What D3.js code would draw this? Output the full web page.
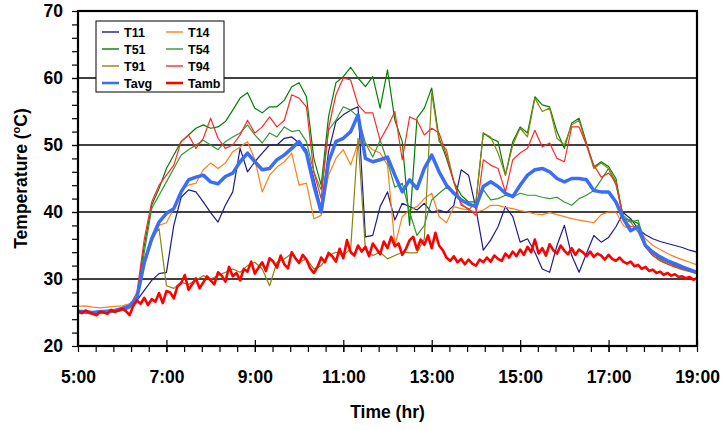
<!DOCTYPE html>
<html>
<head>
<meta charset="utf-8">
<script src="https://cdn.jsdelivr.net/npm/d3@7"></script>
<style>
  html, body { margin: 0; padding: 0; background: #fff; overflow: hidden; }
  svg { display: block; }
  svg text { font-family: "Liberation Sans", Arial, sans-serif; font-weight: bold; fill: #000; }
</style>
</head>
<body>
<svg id="chart" width="725" height="430"></svg>
<script>
// time grids (hours): sensors every 10 min, ambient every 5 min
const t10 = d3.range(85).map(i => 5 + i / 6)
const t5 = d3.range(169).map(j => 5 + j / 12)

const xTicks = [5, 7, 9, 11, 13, 15, 17, 19]
const yTicks = [20, 30, 40, 50, 60, 70]

const T11 = [25.3,25.2,25.1,25.2,25.3,25.4,25.6,25.8,26.8,28.3,
  29.8,30.8,31.0,38.0,42.2,43.3,43.0,41.5,39.9,38.5,
  41.0,43.0,49.5,46.0,47.5,48.8,50.0,50.0,51.0,51.2,
  50.3,49.3,45.0,40.5,49.0,53.5,54.5,55.2,55.7,36.3,
  36.5,40.8,43.0,38.8,41.3,40.8,40.3,41.3,39.9,40.3,
  39.9,41.0,46.3,45.5,40.5,34.3,35.8,37.8,40.8,39.3,
  35.5,36.0,34.0,31.5,31.0,35.0,38.0,33.5,31.0,33.8,
  36.5,35.5,36.2,37.8,39.9,39.0,37.5,36.6,36.0,35.6,
  35.3,35.0,34.7,34.3,34.0]

const T14 = [25.9,26.0,25.8,25.7,25.8,25.9,26.0,26.3,27.0,32.0,
  35.5,38.0,38.4,40.5,43.3,44.0,44.3,46.3,47.3,46.5,
  47.3,49.0,49.7,50.5,47.8,43.0,45.5,46.7,47.5,48.8,
  44.0,44.3,39.0,39.5,45.5,48.0,49.3,47.0,50.3,50.3,
  49.3,48.8,47.0,35.0,39.3,40.3,40.8,42.0,42.8,39.3,
  38.4,40.8,40.5,40.3,40.0,40.3,41.0,41.0,40.7,40.5,
  40.2,40.0,39.7,39.6,39.9,39.6,39.3,39.0,38.8,38.6,
  38.4,39.6,40.0,40.0,38.0,37.3,37.8,36.0,35.0,34.4,
  33.8,33.3,32.9,32.5,32.1]

const T51 = [25.0,24.9,24.8,24.9,25.0,25.1,25.3,25.7,27.5,35.0,
  41.0,43.5,46.5,48.5,50.5,51.5,52.5,53.0,52.5,52.7,
  53.5,55.2,57.0,57.8,55.5,54.8,55.7,55.7,56.7,58.7,
  59.3,57.2,48.0,44.0,54.2,59.3,60.2,61.6,60.0,58.7,
  60.2,55.5,61.2,53.7,50.5,38.0,54.0,55.5,58.5,51.0,
  48.0,44.5,42.5,41.5,41.5,51.8,51.0,50.5,45.5,50.5,
  52.7,51.8,57.2,56.0,55.7,52.0,49.5,53.3,54.0,50.3,
  46.7,47.5,46.8,45.0,39.0,38.8,38.3,35.0,33.8,33.0,
  32.5,32.0,31.6,31.2,30.8]

const T54 = [25.1,25.0,24.9,25.0,25.1,25.2,25.4,25.8,27.3,34.0,
  40.5,42.5,44.5,46.5,48.5,49.3,50.0,50.7,50.0,49.3,
  50.5,51.2,51.8,53.0,51.5,50.3,51.8,51.2,52.7,52.0,
  52.2,50.5,46.0,43.3,52.2,53.7,55.7,55.2,54.2,50.3,
  48.2,50.7,47.5,43.7,44.3,40.0,36.5,38.0,41.8,42.8,
  43.7,43.0,42.0,41.0,40.8,43.3,41.8,42.0,42.5,42.2,
  42.8,42.5,42.5,42.2,42.0,42.2,41.5,41.0,42.0,42.5,
  43.2,44.8,46.5,44.0,39.5,38.5,38.8,35.2,34.2,33.4,
  32.8,32.2,31.7,31.3,30.9]

const T91 = [25.0,24.9,24.8,24.9,25.0,25.1,25.3,25.6,27.0,33.0,
  36.0,37.5,29.0,28.6,29.5,29.2,29.8,30.5,30.0,30.5,
  31.0,31.5,31.0,32.0,32.5,31.5,29.0,32.5,33.0,33.8,
  32.5,33.0,31.5,32.0,33.5,34.0,33.5,34.5,51.0,34.5,
  33.5,34.0,33.0,33.5,34.0,33.9,33.9,36.0,57.8,50.5,
  49.3,44.5,41.3,40.3,41.5,51.8,51.2,48.8,45.5,50.0,
  52.5,51.2,57.0,55.0,55.5,51.0,50.0,53.0,53.7,50.0,
  46.5,47.3,46.5,44.5,38.8,38.5,37.0,34.8,33.5,32.8,
  32.3,31.8,31.4,31.1,30.8]

const T94 = [25.2,25.1,25.0,25.1,25.2,25.3,25.5,25.9,28.0,36.0,
  41.5,44.0,45.5,47.0,50.5,51.5,49.5,51.0,54.0,51.0,
  49.5,50.0,51.5,53.7,51.8,52.7,54.2,52.7,53.7,57.5,
  57.0,55.7,46.0,42.0,52.5,57.5,60.0,59.7,56.0,54.8,
  54.8,50.7,52.7,55.0,47.8,54.2,53.7,51.5,52.5,51.8,
  48.5,44.5,41.0,40.5,39.5,47.8,47.0,46.5,43.0,47.8,
  48.8,49.5,52.2,49.7,50.3,48.0,47.5,52.7,52.7,50.0,
  47.0,45.2,45.8,44.5,39.0,37.8,37.8,34.8,33.5,32.7,
  32.2,31.8,31.5,31.2,30.9]

const Tavg = [25.2,25.1,25.0,25.1,25.2,25.3,25.6,26.0,27.2,32.5,
  36.0,38.5,39.8,40.5,43.0,44.8,45.2,45.5,44.5,44.2,
  45.3,45.8,47.5,48.8,47.5,46.3,46.5,47.8,48.5,49.5,
  50.5,48.8,44.0,40.0,47.5,50.5,51.0,52.0,54.5,48.0,
  47.5,47.8,48.2,45.5,43.0,44.8,43.5,46.5,48.5,46.0,
  44.0,42.8,41.8,41.2,40.8,43.8,44.5,43.8,42.8,42.3,
  44.0,45.5,46.3,46.5,46.0,45.0,44.5,45.0,45.0,44.8,
  43.2,43.0,43.0,41.5,39.0,37.2,37.8,35.0,34.0,33.3,
  32.7,32.3,31.8,31.4,31.0]

const Tamb = [25.2,24.9,25.3,25.0,24.8,24.6,25.1,25.0,24.8,25.4,25.1,25.3,25.6,25.2,24.6,
  26.0,26.8,26.3,27.2,26.1,27.0,26.6,27.9,26.4,28.2,28.0,27.1,28.9,29.4,30.6,
  28.4,29.2,30.1,28.6,29.5,30.4,29.8,29.2,31.0,30.5,29.6,31.8,30.4,30.9,29.8,
  31.5,31.1,32.6,30.8,31.7,32.5,31.2,33.1,32.6,31.7,33.5,32.2,31.6,34.0,33.1,
  32.4,33.6,32.9,31.6,30.9,31.8,33.2,32.5,33.9,33.4,32.6,34.5,33.1,35.8,34.0,
  33.5,35.0,34.1,34.8,33.4,35.3,34.5,33.7,35.6,34.6,36.3,34.9,35.3,33.6,34.5,
  35.8,36.3,34.4,35.9,35.1,36.5,34.6,36.9,35.0,34.3,33.2,32.7,33.4,32.5,33.0,
  32.2,32.9,32.3,32.0,32.9,32.5,33.2,32.6,33.5,33.0,32.7,33.8,33.2,34.1,33.4,
  34.4,33.6,34.8,34.0,35.9,33.8,34.6,33.5,35.2,34.3,33.8,35.0,34.2,33.7,34.6,
  33.6,34.4,34.0,33.4,34.1,33.3,33.8,33.5,32.9,33.6,33.0,32.7,33.2,32.6,32.3,
  32.6,31.9,32.1,31.5,31.8,31.2,31.4,30.9,31.1,30.6,30.9,30.5,30.7,30.3,30.4,
  30.1,30.3,29.9,30.1]

// draw order = legend order
const series = [
  { name: 'T11', time: t10, values: T11, color: '#1c1c8e', width: 1.2 },
  { name: 'T14', time: t10, values: T14, color: '#ff7f1a', width: 1.2 },
  { name: 'T51', time: t10, values: T51, color: '#008000', width: 1.2 },
  { name: 'T54', time: t10, values: T54, color: '#2f9a2f', width: 1.2 },
  { name: 'T91', time: t10, values: T91, color: '#868610', width: 1.2 },
  { name: 'T94', time: t10, values: T94, color: '#ff2a2a', width: 1.2 },
  { name: 'Tavg', time: t10, values: Tavg, color: '#3a6ef5', width: 3.5 },
  { name: 'Tamb', time: t5, values: Tamb, color: '#ff0000', width: 2.6 }
]

const width = 725
const height = 430
const margin = { top: 11, right: 28, bottom: 84, left: 78 }
const innerWidth = width - margin.left - margin.right
const innerHeight = height - margin.top - margin.bottom

const svg = d3.select('#chart')

const x = d3.scaleLinear().domain([5, 19]).range([0, innerWidth])
const y = d3.scaleLinear().domain([20, 70]).range([innerHeight, 0])

const g = svg.append('g')
  .attr('transform', `translate(${margin.left},${margin.top})`)

// grid lines
g.append('g')
  .selectAll('line')
  .data([30, 40, 50, 60])
  .join('line')
  .attr('x1', 0)
  .attr('x2', innerWidth)
  .attr('y1', d => y(d))
  .attr('y2', d => y(d))
  .attr('stroke', '#000')
  .attr('stroke-width', 1.3)

// series
const line = d3.line()
  .x(d => x(d[0]))
  .y(d => y(d[1]))

series.forEach(s => {
  g.append('path')
    .datum(s.time.map((t, i) => [t, s.values[i]]))
    .attr('fill', 'none')
    .attr('stroke', s.color)
    .attr('stroke-width', s.width)
    .attr('stroke-linejoin', 'round')
    .attr('d', line)
})

// y axis: labelled majors, minor ticks every 2
const yMinor = g.append('g')
  .call(d3.axisLeft(y).tickValues(d3.range(22, 70, 2)).tickSize(6).tickFormat(''))
yMinor.select('.domain').remove()
yMinor.selectAll('text').remove()
yMinor.selectAll('line').attr('stroke', '#000').attr('stroke-width', 1.2)

const yAxis = g.append('g')
  .call(d3.axisLeft(y).tickValues(yTicks).tickSize(6).tickPadding(9))
  .attr('font-family', null)
  .attr('font-size', 17.5)
yAxis.select('.domain').remove()
yAxis.selectAll('line').attr('stroke', '#000').attr('stroke-width', 1.2)

// x axis: minor ticks every 24 min, majors cross the axis
const xMinor = g.append('g')
  .attr('transform', `translate(0,${innerHeight})`)
  .call(d3.axisBottom(x).tickValues(d3.range(5.4, 19, 0.4)).tickSize(6).tickFormat(''))
xMinor.select('.domain').remove()
xMinor.selectAll('text').remove()
xMinor.selectAll('line').attr('stroke', '#000').attr('stroke-width', 1.2)

const xAxis = g.append('g')
  .attr('transform', `translate(0,${innerHeight})`)
  .call(d3.axisBottom(x).tickValues(xTicks).tickSize(6).tickPadding(19).tickFormat(d => `${d}:00`))
  .attr('font-family', null)
  .attr('font-size', 17.5)
xAxis.select('.domain').remove()
xAxis.selectAll('line').attr('stroke', '#000').attr('stroke-width', 1.2).attr('y1', -6)

// frame
g.append('rect')
  .attr('width', innerWidth)
  .attr('height', innerHeight)
  .attr('fill', 'none')
  .attr('stroke', '#000')
  .attr('stroke-width', 2.2)

// axis titles
svg.append('text')
  .attr('x', margin.left + innerWidth / 2)
  .attr('y', 418)
  .attr('text-anchor', 'middle')
  .attr('font-size', 17.5)
  .text('Time (hr)')

const yTitle = svg.append('text')
  .attr('transform', `translate(27,${margin.top + innerHeight / 2}) rotate(-90)`)
  .attr('text-anchor', 'middle')
  .attr('font-size', 17.5)
yTitle.append('tspan').text('Temperature (')
yTitle.append('tspan').attr('dy', -7).attr('font-size', 11).text('o')
yTitle.append('tspan').attr('dy', 7).text('C)')

// legend
const legendG = svg.append('g').attr('transform', 'translate(96,21)')
legendG.append('rect')
  .attr('width', 128)
  .attr('height', 71)
  .attr('fill', '#fff')
  .attr('stroke', '#000')
  .attr('stroke-width', 1)

const items = legendG.selectAll('g.item')
  .data(series)
  .join('g')
  .attr('class', 'item')
  .attr('transform', (d, i) => `translate(${6 + (i % 2) * 64},${11 + Math.floor(i / 2) * 17})`)

items.append('line')
  .attr('x1', 0)
  .attr('x2', 17)
  .attr('stroke', d => d.color)
  .attr('stroke-width', d => d.width > 2 ? 2.6 : 1.4)

items.append('text')
  .attr('x', 22)
  .attr('dy', '0.36em')
  .attr('font-size', 12.5)
  .text(d => d.name)
</script>
</body>
</html>
